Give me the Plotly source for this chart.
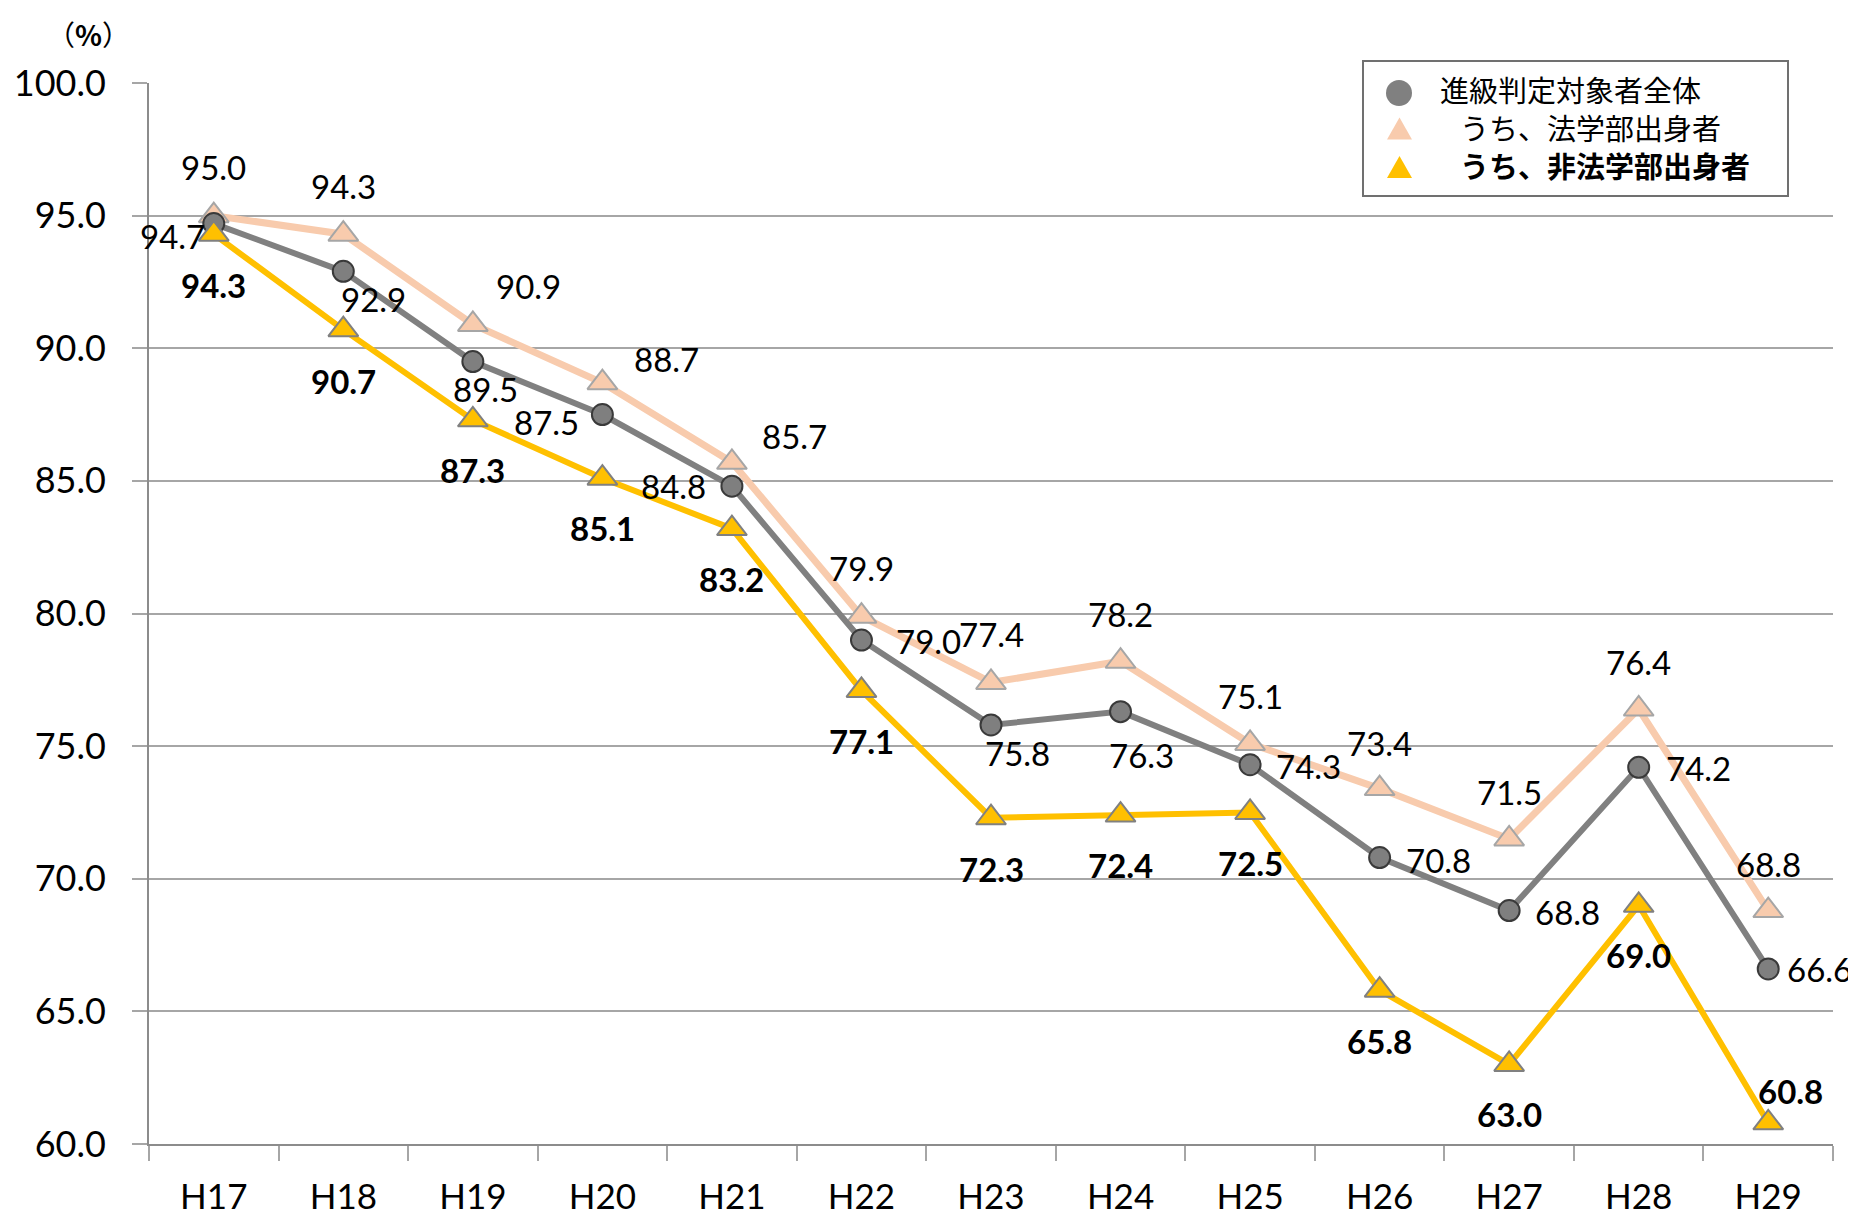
import plotly.graph_objects as go

categories = ["H17", "H18", "H19", "H20", "H21", "H22", "H23", "H24", "H25", "H26", "H27", "H28", "H29"]
all_students = [94.7, 92.9, 89.5, 87.5, 84.8, 79.0, 75.8, 76.3, 74.3, 70.8, 68.8, 74.2, 66.6]
law_grads = [95.0, 94.3, 90.9, 88.7, 85.7, 79.9, 77.4, 78.2, 75.1, 73.4, 71.5, 76.4, 68.8]
nonlaw_grads = [94.3, 90.7, 87.3, 85.1, 83.2, 77.1, 72.3, 72.4, 72.5, 65.8, 63.0, 69.0, 60.8]
y_ticks = [60, 65, 70, 75, 80, 85, 90, 95, 100]

name_all = "進級判定対象者全体"
name_law = "うち、法学部出身者"
name_nonlaw = "<b>うち、非法学部出身者</b>"

# label pixel offsets (dx right, dy down)
off_law = [(0, -49), (0, -48), (56, -38), (64, -24), (63, -26), (0, -48), (0, -48),
           (0, -47), (0, -47), (0, -46), (0, -47), (0, -47), (0, -47)]
off_all = [(-41, 12), (30, 28), (13, 27), (-56, 7), (-58, 0), (67, 1), (26, 28),
           (21, 43), (58, 1), (59, 2), (58, 1), (60, 1), (51, 0)]
off_non = [(0, 51), (0, 51), (0, 50), (0, 50), (0, 50), (0, 51), (0, 51),
           (0, 50), (0, 51), (0, 51), (0, 50), (0, 50), (22, -32)]

NUM_FONT = "Lato, Carlito, Calibri, sans-serif"
CJK_FONT = "Noto Sans CJK JP"

# page body has an 8px margin; work in page coordinates minus 8
OFF = 8
L, R, T, B = 149 - OFF, 1833 - OFF, 83 - OFF, 1144 - OFF
W, H = 1856 - OFF, 1216 - OFF


def px(xp):
    return (xp - OFF - L) / (R - L)


def py(yp):
    return 1 - (yp - OFF - T) / (B - T)


fig = go.Figure()

fig.add_trace(go.Scatter(
    x=categories, y=law_grads, mode="lines+markers", name=name_law,
    line=dict(color="#F8CBAD", width=7),
    marker=dict(symbol="triangle-up", size=26, color="#F8CBAD",
                line=dict(color="#A6A6A6", width=2)),
))
fig.add_trace(go.Scatter(
    x=categories, y=all_students, mode="lines+markers", name=name_all,
    line=dict(color="#808080", width=6),
    marker=dict(symbol="circle", size=21, color="#7F7F7F",
                line=dict(color="#3A3A3A", width=2)),
))
fig.add_trace(go.Scatter(
    x=categories, y=nonlaw_grads, mode="lines+markers", name=name_nonlaw,
    line=dict(color="#FFC000", width=6),
    marker=dict(symbol="triangle-up", size=26, color="#FFC000",
                line=dict(color="#808080", width=2)),
))

annotations = []
for vals, offs, bold in [(law_grads, off_law, False), (all_students, off_all, False),
                         (nonlaw_grads, off_non, True)]:
    for c, v, (dx, dy) in zip(categories, vals, offs):
        txt = f"{v:.1f}"
        if bold:
            txt = f"<b>{txt}</b>"
        annotations.append(dict(x=c, y=v, xref="x", yref="y", text=txt, showarrow=False,
                                xshift=dx, yshift=-dy,
                                font=dict(family=NUM_FONT, size=33, color="#000000")))

annotations.append(dict(x=px(88), y=py(34), xref="paper", yref="paper", text="（<b>%</b>）",
                        showarrow=False, xanchor="center", yanchor="middle",
                        font=dict(family=CJK_FONT, size=28, color="#000000")))

# custom legend (box, symbols, texts)
shapes = [dict(type="rect", xref="paper", yref="paper",
               x0=px(1363), x1=px(1788), y0=py(196), y1=py(61),
               fillcolor="white", line=dict(color="#707070", width=2), layer="above")]
shapes.append(dict(type="circle", xref="paper", yref="paper",
                   x0=px(1399 - 13), x1=px(1399 + 13), y0=py(93 + 13), y1=py(93 - 13),
                   fillcolor="#808080", line=dict(width=0), layer="above"))
for cy, col in [(128.5, "#F8CBAD"), (167, "#FFC000")]:
    xa, xb, xc = px(1387), px(1412), px(1399.5)
    ya, yb = py(cy + 11), py(cy - 11)
    shapes.append(dict(type="path", xref="paper", yref="paper",
                       path=f"M {xa},{ya} L {xb},{ya} L {xc},{yb} Z",
                       fillcolor=col, line=dict(width=0), layer="above"))
for txt, x0, cy in [(name_all, 1438, 89), (name_law, 1458, 127), (name_nonlaw, 1458, 165)]:
    annotations.append(dict(x=px(x0), y=py(cy), xref="paper", yref="paper", text=txt,
                            showarrow=False, xanchor="left", yanchor="middle",
                            font=dict(family=CJK_FONT, size=29, color="#000000")))

fig.update_layout(
    width=W, height=H,
    margin=dict(l=L, r=W - R, t=T, b=H - B, autoexpand=False),
    paper_bgcolor="white", plot_bgcolor="white",
    annotations=annotations,
    shapes=shapes,
    showlegend=False,
    xaxis=dict(
        type="category", range=[-0.5, 12.5], automargin=False,
        showline=True, linecolor="#8C8C8C", linewidth=2,
        ticks="outside", tickson="boundaries", ticklen=15, tickwidth=1.5, tickcolor="#A6A6A6",
        showgrid=False, ticklabelstandoff=21,
        tickfont=dict(family=NUM_FONT, size=35, color="#000000"),
    ),
    yaxis=dict(
        range=[60, 100], tickvals=y_ticks, ticktext=[f"{t:.1f}" for t in y_ticks],
        automargin=False,
        showline=True, linecolor="#8C8C8C", linewidth=2,
        ticks="outside", ticklen=15, tickwidth=1.5, tickcolor="#A6A6A6",
        showgrid=True, gridcolor="#A6A6A6", gridwidth=1.5,
        zeroline=False, ticklabelstandoff=19,
        tickfont=dict(family=NUM_FONT, size=36, color="#000000"),
    ),
)

fig.write_html("out.html")
